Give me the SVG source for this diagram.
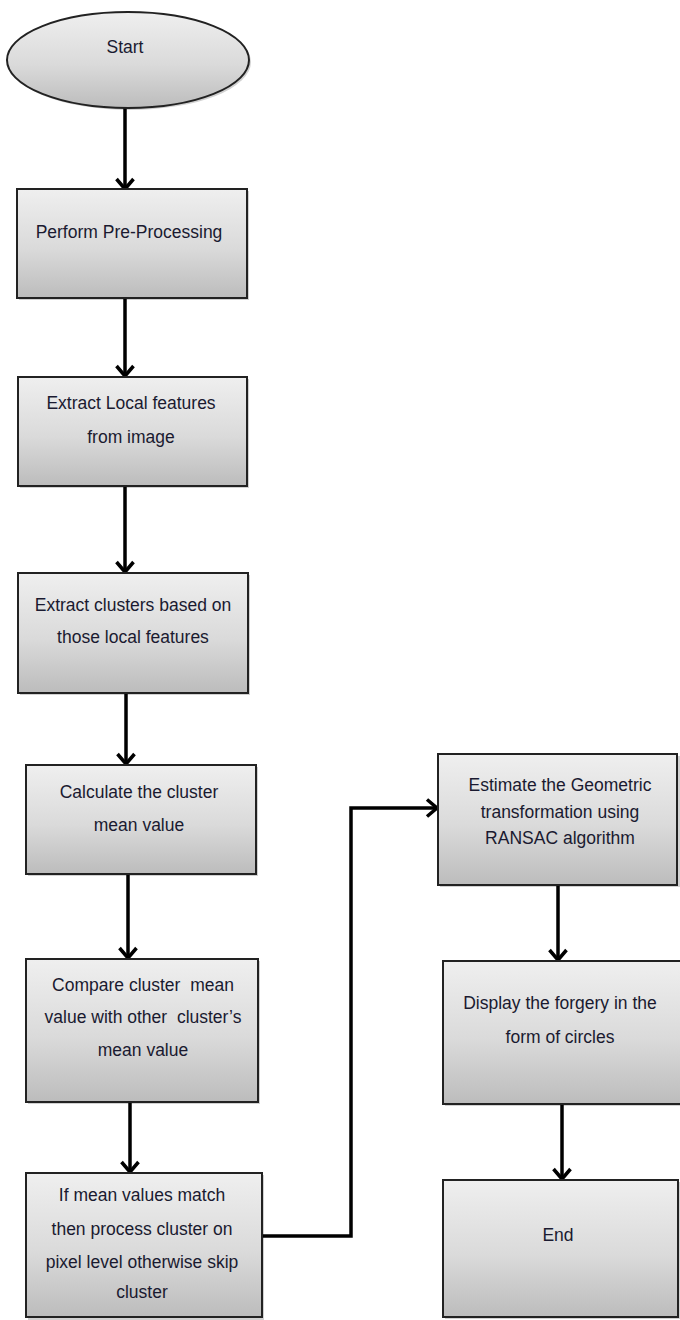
<svg xmlns="http://www.w3.org/2000/svg" width="680" height="1320" viewBox="0 0 680 1320">
<style>
.node{fill:url(#g);stroke:#222;stroke-width:2}
.sh{fill:#000;opacity:0.18}
.t{font-family:"Liberation Sans",Arial,sans-serif;font-size:17.5px;fill:#1a1a30;text-anchor:middle;white-space:pre}
.c{fill:none;stroke:#000;stroke-width:3.5;marker-end:url(#ah)}
</style>
<defs>
<linearGradient id="g" x1="0" y1="0" x2="0" y2="1">
<stop offset="0" stop-color="#efefef"/>
<stop offset="0.55" stop-color="#dadada"/>
<stop offset="1" stop-color="#bcbcbc"/>
</linearGradient>
<marker id="ah" markerUnits="userSpaceOnUse" markerWidth="16" markerHeight="22" refX="12" refY="10" orient="auto" viewBox="0 0 16 22">
<path d="M2,1.5 L12,10 L2,18.5" fill="none" stroke="#000" stroke-width="3.5" stroke-linejoin="miter"/>
</marker>
</defs>
<rect width="680" height="1320" fill="#fff"/>
<g id="connectors">
<line class="c" x1="125" y1="108" x2="125" y2="189"/>
<line class="c" x1="125" y1="298" x2="125" y2="376"/>
<line class="c" x1="125" y1="486" x2="125" y2="572"/>
<line class="c" x1="126" y1="693" x2="126" y2="764"/>
<line class="c" x1="128" y1="874" x2="128" y2="958"/>
<line class="c" x1="130" y1="1102" x2="130" y2="1172"/>
<polyline class="c" points="262,1236 351,1236 351,808 437,808"/>
<line class="c" x1="558" y1="885" x2="558" y2="960"/>
<line class="c" x1="562" y1="1104" x2="562" y2="1179"/>
</g>
<g id="start">
<ellipse class="sh" cx="130" cy="62" rx="121" ry="48"/>
<ellipse class="node" cx="128" cy="60" rx="121" ry="48"/>
<text class="t" x="125" y="53">Start</text>
</g>
<g id="preprocess">
<rect class="sh" x="19" y="191" width="230" height="109"/>
<rect class="node" x="17" y="189" width="230" height="109"/>
<text class="t" x="129" y="238">Perform Pre-Processing</text>
</g>
<g id="extract-local">
<rect class="sh" x="20" y="379" width="229" height="109"/>
<rect class="node" x="18" y="377" width="229" height="109"/>
<text class="t" x="131" y="409">Extract Local features</text>
<text class="t" x="131" y="443">from image</text>
</g>
<g id="extract-clusters">
<rect class="sh" x="20" y="575" width="230" height="120"/>
<rect class="node" x="18" y="573" width="230" height="120"/>
<text class="t" x="133" y="611">Extract clusters based on</text>
<text class="t" x="133" y="643">those local features</text>
</g>
<g id="calc-mean">
<rect class="sh" x="28" y="767" width="230" height="109"/>
<rect class="node" x="26" y="765" width="230" height="109"/>
<text class="t" x="139" y="798">Calculate the cluster</text>
<text class="t" x="139" y="831">mean value</text>
</g>
<g id="compare">
<rect class="sh" x="28" y="961" width="232" height="143"/>
<rect class="node" x="26" y="959" width="232" height="143"/>
<text class="t" x="143" y="991">Compare cluster  mean</text>
<text class="t" x="143" y="1023">value with other  cluster’s</text>
<text class="t" x="143" y="1056">mean value</text>
</g>
<g id="match">
<rect class="sh" x="28" y="1175" width="236" height="145"/>
<rect class="node" x="26" y="1173" width="236" height="144"/>
<text class="t" x="142" y="1201">If mean values match</text>
<text class="t" x="142" y="1235">then process cluster on</text>
<text class="t" x="142" y="1268">pixel level otherwise skip</text>
<text class="t" x="142" y="1298">cluster</text>
</g>
<g id="ransac">
<rect class="sh" x="440" y="756" width="240" height="131"/>
<rect class="node" x="438" y="754" width="239" height="131"/>
<text class="t" x="560" y="791">Estimate the Geometric</text>
<text class="t" x="560" y="818">transformation using</text>
<text class="t" x="560" y="844">RANSAC algorithm</text>
</g>
<g id="display">
<rect class="sh" x="445" y="963" width="240" height="143"/>
<rect class="node" x="443" y="961" width="240" height="143"/>
<text class="t" x="560" y="1009">Display the forgery in the</text>
<text class="t" x="560" y="1043">form of circles</text>
</g>
<g id="end">
<rect class="sh" x="445" y="1182" width="235" height="137"/>
<rect class="node" x="443" y="1180" width="235" height="137"/>
<text class="t" x="558" y="1241">End</text>
</g>
</svg>
